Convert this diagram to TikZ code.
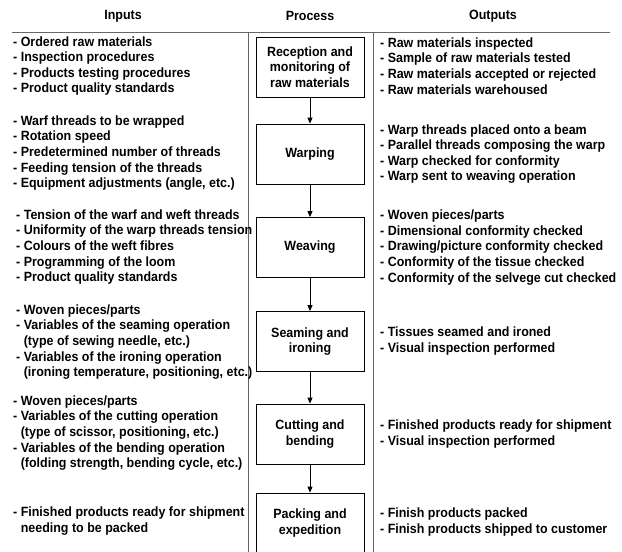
\documentclass[tikz,border=0pt]{standalone}
\usepackage{fontspec}
\setmainfont[FakeStretch=0.93]{Liberation Sans}
\usetikzlibrary{arrows.meta}

\begin{document}
\begin{tikzpicture}[x=1pt,y=-1pt,
  every node/.style={font=\fontsize{13.4}{15.6}\selectfont\bfseries,inner sep=0pt},
  stage/.style={draw,line width=.8pt,minimum width=108pt,minimum height=60pt,align=center},
  items/.style={anchor=west,align=left},
  rule/.style={draw=black!60,line width=1pt},
  flow/.style={line width=.8pt,-{Triangle[length=6pt,width=5pt]}}]
  \useasboundingbox (0,0) rectangle (622,552);
  \clip (0,0) rectangle (622,552);

  \node (hin) at (123,16) {Inputs};
  \node (hproc) at (310,16) {Process};
  \node (hout) at (493,16) {Outputs};
  \draw[rule] (12,32) -- (610,32);
  \draw[rule] (248,32) -- (248,552);
  \draw[rule] (373,32) -- (373,552);

  \node[stage] (recep) at (310,67) {Reception and\\monitoring of\\raw materials};
  \node[stage] (warp) at (310,154) {Warping};
  \node[stage] (weave) at (310,247.5) {Weaving};
  \node[stage] (seam) at (310,341.5) {Seaming and\\ironing};
  \node[stage] (cut) at (310,434) {Cutting and\\bending};
  \node[stage] (pack) at (310,523) {Packing and\\expedition};

  \draw[flow] (recep) -- (warp);
  \draw[flow] (warp) -- (weave);
  \draw[flow] (weave) -- (seam);
  \draw[flow] (seam) -- (cut);
  \draw[flow] (cut) -- (pack);

  \node[items] (recepin) at (13,66) {- Ordered raw materials\\- Inspection procedures\\- Products testing procedures\\- Product quality standards};
  \node[items] (warpin) at (13,153) {- Warf threads to be wrapped\\- Rotation speed\\- Predetermined number of threads\\- Feeding tension of the threads\\- Equipment adjustments (angle, etc.)};
  \node[items] (weavein) at (16,247) {- Tension of the warf and weft threads\\- Uniformity of the warp threads tension\\- Colours of the weft fibres\\- Programming of the loom\\- Product quality standards};
  \node[items] (seamin) at (16,342) {- Woven pieces/parts\\- Variables of the seaming operation\\\phantom{- }(type of sewing needle, etc.)\\- Variables of the ironing operation\\\phantom{- }(ironing temperature, positioning, etc.)};
  \node[items] (cutin) at (13,433) {- Woven pieces/parts\\- Variables of the cutting operation\\\phantom{- }(type of scissor, positioning, etc.)\\- Variables of the bending operation\\\phantom{- }(folding strength, bending cycle, etc.)};
  \node[items] (packin) at (13,521) {- Finished products ready for shipment\\\phantom{- }needing to be packed};

  \node[items] (recepout) at (380,66) {- Raw materials inspected\\- Sample of raw materials tested\\- Raw materials accepted or rejected\\- Raw materials warehoused};
  \node[items] (warpout) at (380,154) {- Warp threads placed onto a beam\\- Parallel threads composing the warp\\- Warp checked for conformity\\- Warp sent to weaving operation};
  \node[items] (weaveout) at (380,247.5) {- Woven pieces/parts\\- Dimensional conformity checked\\- Drawing/picture conformity checked\\- Conformity of the tissue checked\\- Conformity of the selvege cut checked};
  \node[items] (seamout) at (380,341) {- Tissues seamed and ironed\\- Visual inspection performed};
  \node[items] (cutout) at (380,434) {- Finished products ready for shipment\\- Visual inspection performed};
  \node[items] (packout) at (380,522) {- Finish products packed\\- Finish products shipped to customer};
\end{tikzpicture}
\end{document}
